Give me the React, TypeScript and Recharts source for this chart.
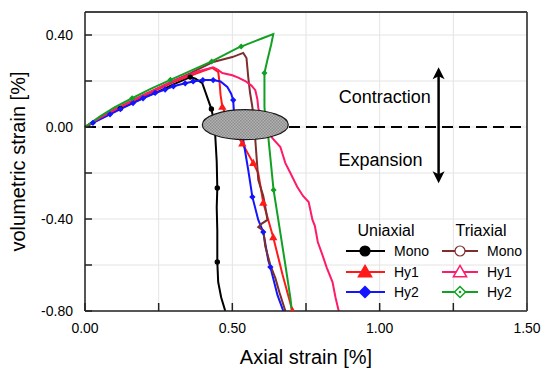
import React from 'react';
import {
  ComposedChart,
  Line,
  Scatter,
  XAxis,
  YAxis,
  CartesianGrid,
  ReferenceLine,
  ReferenceDot,
  Legend,
} from 'recharts';

type Pt = [number, number];

// axial strain / volumetric strain pairs
const uniMono: Pt[] = [
  [0, 0], [0.05, 0.035], [0.1, 0.068], [0.15, 0.098], [0.2, 0.128], [0.25, 0.155], [0.3, 0.185],
  [0.357, 0.217], [0.375, 0.21], [0.398, 0.191], [0.412, 0.14], [0.429, 0.078], [0.44, 0.01],
  [0.443, -0.06], [0.447, -0.15], [0.449, -0.265], [0.447, -0.35], [0.449, -0.45], [0.449, -0.587],
  [0.452, -0.674], [0.462, -0.74], [0.476, -0.8],
];
const uniHy1: Pt[] = [
  [0, 0], [0.05, 0.038], [0.1, 0.072], [0.2, 0.135], [0.3, 0.195], [0.4, 0.243], [0.432, 0.257],
  [0.452, 0.24], [0.457, 0.19], [0.46, 0.14], [0.466, 0.087], [0.49, 0.02], [0.534, -0.072],
  [0.571, -0.157], [0.588, -0.2], [0.605, -0.33], [0.619, -0.391], [0.639, -0.48], [0.67, -0.64],
  [0.704, -0.8],
];
const uniHy2: Pt[] = [
  [0, 0], [0.027, 0.018], [0.085, 0.055], [0.12, 0.078], [0.163, 0.104], [0.197, 0.125],
  [0.238, 0.148], [0.272, 0.163], [0.3, 0.177], [0.34, 0.19], [0.367, 0.198], [0.4, 0.204],
  [0.435, 0.204], [0.46, 0.198], [0.483, 0.174], [0.496, 0.145], [0.503, 0.117], [0.505, 0.074],
  [0.52, 0.0], [0.537, -0.057], [0.554, -0.187], [0.568, -0.304], [0.588, -0.404], [0.605, -0.457],
  [0.622, -0.58], [0.629, -0.609], [0.653, -0.73], [0.673, -0.8],
];
const triMono: Pt[] = [
  [0, 0], [0.05, 0.04], [0.1, 0.075], [0.2, 0.14], [0.3, 0.2], [0.36, 0.235], [0.435, 0.283],
  [0.5, 0.304], [0.537, 0.322], [0.548, 0.3], [0.554, 0.217], [0.56, 0.15], [0.568, 0.087],
  [0.578, -0.057], [0.588, -0.23], [0.605, -0.3], [0.615, -0.37], [0.619, -0.404], [0.6, -0.42],
  [0.588, -0.435], [0.605, -0.45], [0.612, -0.52], [0.629, -0.6], [0.646, -0.657], [0.66, -0.72],
  [0.68, -0.8],
];
const triHy1: Pt[] = [
  [0, 0], [0.05, 0.04], [0.1, 0.075], [0.2, 0.14], [0.3, 0.2], [0.38, 0.24], [0.435, 0.26],
  [0.45, 0.25], [0.466, 0.235], [0.5, 0.225], [0.52, 0.215], [0.544, 0.2], [0.565, 0.18],
  [0.578, 0.16], [0.585, 0.12], [0.588, 0.083], [0.6, 0.03], [0.62, -0.02], [0.636, -0.048],
  [0.663, -0.087], [0.68, -0.157], [0.697, -0.2], [0.72, -0.26], [0.74, -0.3], [0.759, -0.326],
  [0.772, -0.404], [0.78, -0.43], [0.79, -0.5], [0.806, -0.557], [0.82, -0.61], [0.84, -0.674],
  [0.85, -0.74], [0.861, -0.8],
];
const triHy2: Pt[] = [
  [0, 0], [0.05, 0.045], [0.1, 0.085], [0.16, 0.125], [0.221, 0.165], [0.29, 0.205], [0.36, 0.245],
  [0.43, 0.285], [0.517, 0.343], [0.6, 0.385], [0.639, 0.404], [0.632, 0.36], [0.619, 0.291],
  [0.609, 0.235], [0.609, 0.087], [0.615, 0.0], [0.622, -0.043], [0.64, -0.274], [0.656, -0.404],
  [0.68, -0.6], [0.697, -0.743], [0.702, -0.8],
];

// symbol positions along the curves
const uniMonoMarks: Pt[] = [[0.12, 0.08], [0.357, 0.217], [0.429, 0.078], [0.449, -0.265], [0.449, -0.587]];
const uniHy1Marks: Pt[] = [[0.466, 0.087], [0.534, -0.072], [0.571, -0.157], [0.605, -0.33], [0.639, -0.48], [0.704, -0.8]];
const uniHy2Marks: Pt[] = [
  [0.027, 0.018], [0.085, 0.055], [0.12, 0.078], [0.163, 0.104], [0.197, 0.125], [0.238, 0.148],
  [0.272, 0.163], [0.3, 0.177], [0.34, 0.19], [0.367, 0.198], [0.4, 0.204], [0.435, 0.204],
  [0.503, 0.117], [0.568, -0.304], [0.605, -0.457], [0.629, -0.609],
];
const triHy2Marks: Pt[] = [[0.16, 0.125], [0.29, 0.205], [0.43, 0.285], [0.53, 0.35], [0.609, 0.235], [0.64, -0.274]];

const xTicks = [0, 0.25, 0.5, 0.75, 1, 1.25, 1.5];
const yTicks = [-0.8, -0.6, -0.4, -0.2, 0, 0.2, 0.4];
const topTicks = [0.3, 0.6, 0.9, 1.2];
const rightTicks = [0.24, -0.02, -0.28, -0.54];

const FONT = '"Liberation Sans", Arial, sans-serif';
const C = {
  black: '#000000',
  red: '#ff1a1a',
  blue: '#1414ff',
  brown: '#7d2e2e',
  pink: '#ff1a6a',
  green: '#12a024',
};

const toObj = (a: Pt[]) => a.map(([x, y]) => ({ x, y }));

const mark = (kind: string, cx: number, cy: number, s: number, color: string, filled: boolean) => {
  const fill = filled ? color : '#fff';
  if (kind === 'circle') return <circle cx={cx} cy={cy} r={s} fill={fill} stroke={color} strokeWidth={1.2} />;
  if (kind === 'tri')
    return (
      <polygon
        points={`${cx},${cy - s * 1.1} ${cx + s * 1.1},${cy + s * 0.8} ${cx - s * 1.1},${cy + s * 0.8}`}
        fill={fill}
        stroke={color}
        strokeWidth={1.5}
      />
    );
  return (
    <g>
      <polygon
        points={`${cx},${cy - s * 1.1} ${cx + s * 1.1},${cy} ${cx},${cy + s * 1.1} ${cx - s * 1.1},${cy}`}
        fill={fill}
        stroke={color}
        strokeWidth={1.5}
      />
      {!filled && <circle cx={cx} cy={cy} r={1.3} fill={color} />}
    </g>
  );
};

const tickX = (v: number) => (Math.abs(v * 2 - Math.round(v * 2)) < 1e-6 ? v.toFixed(2) : '');
const tickY = (v: number) => (Math.abs(v / 0.4 - Math.round(v / 0.4)) < 1e-6 ? v.toFixed(2) : '');

const YTitle = (p: any) => {
  const vb = p.viewBox;
  const cx = vb.x + 18;
  const cy = vb.y + vb.height / 2;
  return (
    <text x={cx} y={cy} transform={`rotate(-90 ${cx} ${cy})`} textAnchor="middle" dominantBaseline="central" fontSize={20} fill="#000" fontFamily={FONT}>
      volumetric strain [%]
    </text>
  );
};

const XTitle = (p: any) => {
  const vb = p.viewBox;
  return (
    <text x={vb.x + vb.width / 2} y={vb.y + 46} textAnchor="middle" dominantBaseline="central" fontSize={20} fill="#000" fontFamily={FONT}>
      Axial strain [%]
    </text>
  );
};

const Arrow = (p: any) => {
  const { x1, y1, x2, y2 } = p;
  const top = Math.min(y1, y2);
  const bot = Math.max(y1, y2);
  return (
    <g>
      <line x1={x1} y1={top + 8} x2={x2} y2={bot - 8} stroke="#000" strokeWidth={2.5} />
      <polygon points={`${x1},${top} ${x1 + 6},${top + 12} ${x1},${top + 9} ${x1 - 6},${top + 12}`} fill="#000" />
      <polygon points={`${x1},${bot} ${x1 + 6},${bot - 12} ${x1},${bot - 9} ${x1 - 6},${bot - 12}`} fill="#000" />
    </g>
  );
};

const Oval = (p: any) => (
  <g>
    <defs>
      <pattern id="hatch" width="3" height="3" patternUnits="userSpaceOnUse">
        <rect width="3" height="3" fill="#b4b4b4" />
        <rect width="1.5" height="1.5" fill="#8c8c8c" />
        <rect x="1.5" y="1.5" width="1.5" height="1.5" fill="#8c8c8c" />
      </pattern>
    </defs>
    <ellipse cx={p.cx} cy={p.cy} rx={43} ry={15} fill="url(#hatch)" stroke="#1a1a1a" strokeWidth={1.2} />
  </g>
);

const note = (txt: string) => (p: any) => (
  <text x={p.cx} y={p.cy} textAnchor="middle" dominantBaseline="central" fontSize={18} fill="#000" fontFamily={FONT}>
    {txt}
  </text>
);

const LegendBox = () => {
  const rows = [36, 57, 77];
  const uni = [
    { name: 'Mono', kind: 'circle', color: C.black, s: 5 },
    { name: 'Hy1', kind: 'tri', color: C.red, s: 6 },
    { name: 'Hy2', kind: 'dia', color: C.blue, s: 5 },
  ];
  const tri = [
    { name: 'Mono', kind: 'circle', color: C.brown, s: 5 },
    { name: 'Hy1', kind: 'tri', color: C.pink, s: 6 },
    { name: 'Hy2', kind: 'dia', color: C.green, s: 5 },
  ];
  return (
    <svg width={200} height={90} style={{ fontFamily: FONT, display: 'block' }}>
      <text x={56} y={21} textAnchor="middle" fontSize={16} fill="#000">Uniaxial</text>
      <text x={151} y={21} textAnchor="middle" fontSize={16} fill="#000">Triaxial</text>
      {uni.map((u, i) => (
        <g key={'u' + i}>
          <line x1={16} y1={rows[i]} x2={55} y2={rows[i]} stroke={u.color} strokeWidth={2} />
          {mark(u.kind, 35, rows[i], u.s, u.color, true)}
          <text x={64} y={rows[i]} dominantBaseline="central" fontSize={14} fill="#000">{u.name}</text>
        </g>
      ))}
      {tri.map((u, i) => (
        <g key={'t' + i}>
          <line x1={112} y1={rows[i]} x2={148} y2={rows[i]} stroke={u.color} strokeWidth={2} />
          {mark(u.kind, 130, rows[i], u.s, u.color, false)}
          <text x={157} y={rows[i]} dominantBaseline="central" fontSize={14} fill="#000">{u.name}</text>
        </g>
      ))}
    </svg>
  );
};

const series = [
  { key: 'uMono', data: uniMono, color: C.black },
  { key: 'uHy1', data: uniHy1, color: C.red },
  { key: 'uHy2', data: uniHy2, color: C.blue },
  { key: 'tMono', data: triMono, color: C.brown },
  { key: 'tHy1', data: triHy1, color: C.pink },
  { key: 'tHy2', data: triHy2, color: C.green },
];

const marks = [
  { key: 'mMono', data: uniMonoMarks, kind: 'circle', color: C.black, s: 2.1, filled: true },
  { key: 'mHy1', data: uniHy1Marks, kind: 'tri', color: C.red, s: 2.6, filled: true },
  { key: 'mHy2', data: uniHy2Marks, kind: 'dia', color: C.blue, s: 1.9, filled: true },
  { key: 'mTHy2', data: triHy2Marks, kind: 'dia', color: C.green, s: 1.8, filled: true },
];

const App: React.FC = () => {
  return (
    <div style={{ width: 550, height: 375, fontFamily: FONT }}>
      <style>{'body{margin:0}'}</style>
      <ComposedChart width={550} height={375} margin={{ top: 11, right: 22, left: 0, bottom: 0 }}>
        <CartesianGrid stroke="#e4e4e4" strokeWidth={1} />
        <XAxis
          dataKey="x"
          type="number"
          domain={[0, 1.5]}
          ticks={xTicks}
          tickFormatter={tickX}
          height={64}
          tickSize={-8}
          tickMargin={20}
          interval={0}
          stroke="#222"
          strokeWidth={1.5}
          tick={{ fill: '#000', fontSize: 14 }}
          label={{ content: XTitle }}
        />
        <XAxis
          xAxisId="top"
          orientation="top"
          type="number"
          domain={[0, 1.5]}
          ticks={topTicks}
          tickFormatter={() => ''}
          height={1}
          tickSize={-8}
          stroke="#444"
          strokeWidth={1.8}
        />
        <YAxis
          dataKey="y"
          type="number"
          domain={[-0.8, 0.5]}
          ticks={yTicks}
          tickFormatter={tickY}
          width={85}
          tickSize={-7}
          tickMargin={19}
          interval={0}
          stroke="#222"
          strokeWidth={1.5}
          allowDataOverflow
          tick={{ fill: '#000', fontSize: 14 }}
          label={{ content: YTitle }}
        />
        <YAxis
          yAxisId="right"
          orientation="right"
          type="number"
          domain={[-0.8, 0.5]}
          ticks={rightTicks}
          tickFormatter={() => ''}
          width={1}
          tickSize={-8}
          stroke="#444"
          strokeWidth={1.8}
        />
        <ReferenceLine y={0} stroke="#000" strokeWidth={2.2} strokeDasharray="11 6" />
        {series.map((s) => (
          <Line
            key={s.key}
            data={toObj(s.data)}
            dataKey="y"
            type="linear"
            stroke={s.color}
            strokeWidth={2}
            dot={false}
            isAnimationActive={false}
          />
        ))}
        {marks.map((m) => (
          <Scatter
            key={m.key}
            data={toObj(m.data)}
            dataKey="y"
            isAnimationActive={false}
            shape={(p: any) => mark(m.kind, p.cx, p.cy, m.s, m.color, m.filled)}
          />
        ))}
        <ReferenceDot x={0.544} y={0.01} r={1} shape={Oval} />
        <ReferenceLine segment={[{ x: 1.2, y: 0.26 }, { x: 1.2, y: -0.245 }]} shape={Arrow} />
        <ReferenceDot x={1.017} y={0.13} r={1} shape={note('Contraction')} />
        <ReferenceDot x={1.003} y={-0.143} r={1} shape={note('Expansion')} />
        <Legend
          layout="horizontal"
          verticalAlign="middle"
          align="center"
          content={LegendBox}
          wrapperStyle={{ left: 330, top: 215, width: 200, height: 90 }}
        />
      </ComposedChart>
    </div>
  );
};

export default App;
